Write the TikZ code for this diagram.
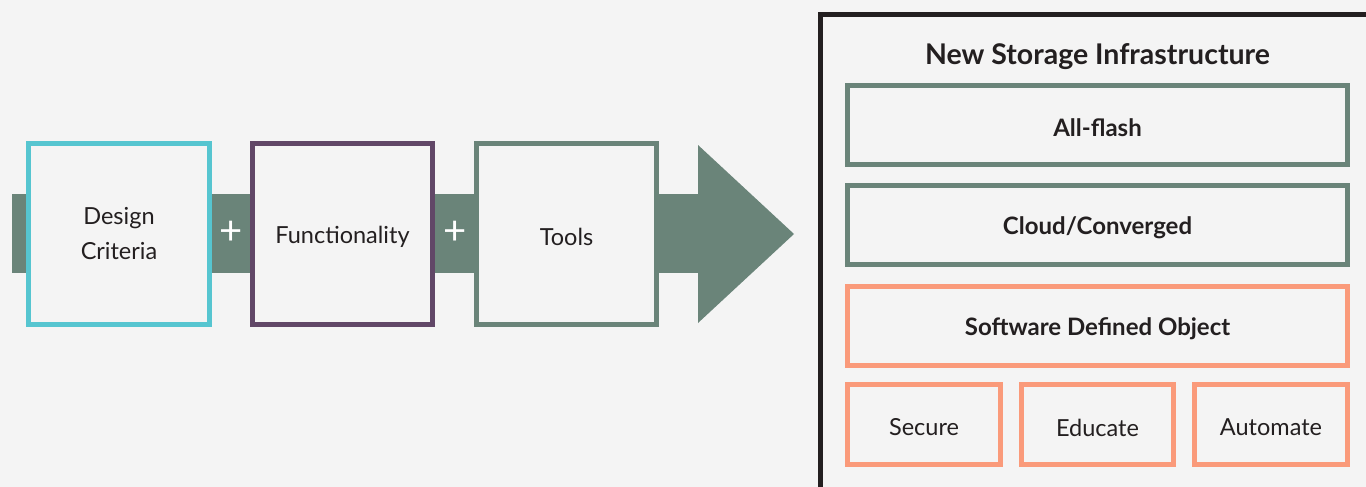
\documentclass[tikz,border=0pt]{standalone}
\usepackage{fontspec}
\setmainfont{Lato}
\definecolor{bg}{HTML}{F4F4F4}
\definecolor{cyanb}{HTML}{56C5D0}
\definecolor{purpb}{HTML}{614767}
\definecolor{greenb}{HTML}{6A8479}
\definecolor{salmon}{HTML}{FA9A7A}
\definecolor{ink}{HTML}{231F20}
\newcommand{\lowr}[1]{\raisebox{-3pt}[\height][\depth]{#1}}
\tikzset{
  bx/.style={draw, line width=5pt, fill=bg, inner sep=0pt, align=center, text=ink,
    font=\fontsize{23.5}{35}\selectfont},
  sq/.style={bx, minimum width=181pt, minimum height=181pt},
  wide/.style={bx, minimum width=500pt, minimum height=79pt, font=\fontsize{24}{30}\selectfont\bfseries},
  small/.style={bx, minimum width=153pt, minimum height=80pt, draw=salmon},
  plus/.style={text=white, inner sep=0pt, font=\fontsize{40}{40}\selectfont}
}
\begin{document}
\begin{tikzpicture}[x=1pt,y=-1pt]
\useasboundingbox (0,0) rectangle (1366,487);
\fill[bg] (0,0) rectangle (1366,487);
% band and arrow
\fill[greenb] (12,194) rectangle (700,273);
\fill[greenb] (698,145) -- (794,234) -- (698,323) -- cycle;
% left boxes
\node[sq, draw=cyanb] (dc) at (119,234) {Design\\Criteria};
\node[sq, draw=purpb, minimum width=180pt] (fn) at (342.5,234) {\lowr{Functionality}};
\node[sq, draw=greenb, minimum width=180pt] (tl) at (566.5,234) {\lowr{Tools}};
\node[plus] (p1) at (231,233) {+};
\node[plus] (p2) at (455,233) {+};
% right panel
\begin{scope}
\clip (0,0) rectangle (1366,487);
\draw[ink, line width=5pt] (820.5,14.5) rectangle (1400,520);
\end{scope}
\node[text=ink, font=\fontsize{28.5}{34}\selectfont\bfseries] (title) at (1097.5,57) {New Storage Infrastructure};
\node[wide, draw=greenb] (af) at (1097.5,125) {\lowr{All-flash}};
\node[wide, draw=greenb] (cc) at (1097.5,225) {\lowr{Cloud/Converged}};
\node[wide, draw=salmon] (sdo) at (1097.5,325.5) {\lowr{Software Defined Object}};
\node[small] (sec) at (924,424.5) {\lowr{Secure}};
\node[small, minimum width=152pt] (edu) at (1097.5,424.5) {\lowr{Educate}};
\node[small] (aut) at (1271,424.5) {\lowr{Automate}};
\end{tikzpicture}
\end{document}
